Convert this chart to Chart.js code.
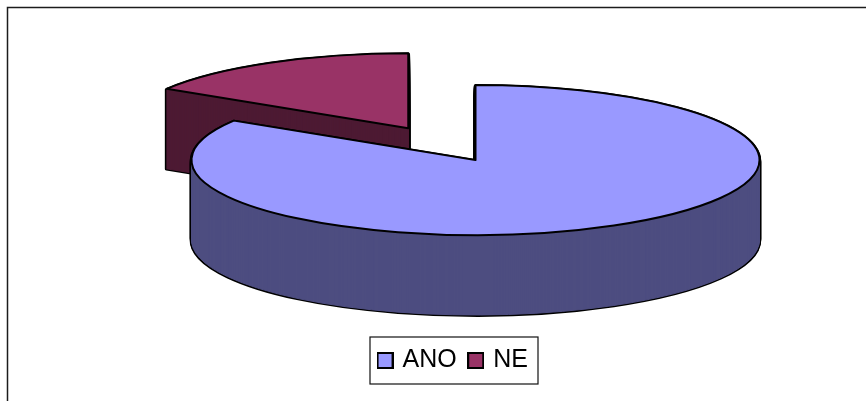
<!DOCTYPE html>
<html>
<head>
<meta charset="utf-8">
<style>html,body{margin:0;padding:0;background:#fff;overflow:hidden}canvas{display:block}</style>
<script src="https://cdn.jsdelivr.net/npm/chart.js@4/dist/chart.umd.min.js"></script>
</head>
<body>
<canvas id="c" width="866" height="401"></canvas>
<script>
const categories = ['ANO', 'NE'];
const values = [83.8, 16.2];
const topColors = ['#9999ff', '#993366'];
const wallColors = ['#4d4d80', '#4d1a33'];
const explode = [0, 138];

const RADIUS = 284, SQUASH = 0.264, DEPTH = 80;
const PIE_X = 475.5, PIE_Y = 160;

function marker(color) {
  const m = document.createElement('canvas');
  m.width = 17; m.height = 17;
  const g = m.getContext('2d');
  g.fillStyle = color; g.fillRect(1, 1, 15, 15);
  g.strokeStyle = '#000'; g.lineWidth = 2; g.strokeRect(1, 1, 15, 15);
  return m;
}

function paintArc(ctx, arc, i, depth, style) {
  const mid = (arc.startAngle + arc.endAngle) / 2;
  const saved = arc.options;
  arc.options = Object.assign({}, {
    borderAlign: 'center', borderJoinStyle: 'round', borderRadius: 0,
    circular: true, offset: 0, spacing: 0, borderDash: [], borderDashOffset: 0
  }, style);
  ctx.save();
  ctx.translate(PIE_X, PIE_Y + depth);
  ctx.scale(1, SQUASH);
  ctx.translate(Math.cos(mid) * explode[i] - arc.x, Math.sin(mid) * explode[i] - arc.y);
  // keep the outline an even width although the pie is squashed
  const stroke = ctx.stroke;
  ctx.stroke = function () {
    const t = ctx.getTransform();
    ctx.setTransform(1, 0, 0, 1, 0, 0);
    stroke.call(ctx);
    ctx.setTransform(t);
  };
  arc.draw(ctx);
  delete ctx.stroke;
  ctx.restore();
  arc.options = saved;
}

const pie3d = {
  id: 'pie3d',
  beforeDraw(chart) {
    const ctx = chart.ctx;
    ctx.save();
    ctx.strokeStyle = '#1c1c1c';
    ctx.lineWidth = 1.5;
    ctx.beginPath();
    ctx.moveTo(7.5, chart.height);
    ctx.lineTo(7.5, 7.5);
    ctx.lineTo(chart.width, 7.5);
    ctx.stroke();
    ctx.restore();
  },
  beforeDatasetDraw(chart, args) {
    const ctx = chart.ctx;
    const arcs = args.meta.data;
    [1, 0].forEach(i => {
      for (let d = DEPTH; d > 0; d--)
        paintArc(ctx, arcs[i], i, d, { backgroundColor: 'rgba(0,0,0,0)', borderColor: '#000', borderWidth: 3.6 });
      for (let d = DEPTH; d > 0; d--)
        paintArc(ctx, arcs[i], i, d, { backgroundColor: wallColors[i], borderColor: wallColors[i], borderWidth: 1 });
    });
    arcs.forEach((arc, i) =>
      paintArc(ctx, arc, i, 0, { backgroundColor: topColors[i], borderColor: '#000', borderWidth: 2 }));
    return false;
  },
  afterDraw(chart) {
    const ctx = chart.ctx;
    ctx.save();
    ctx.strokeStyle = '#111';
    ctx.lineWidth = 1.2;
    ctx.strokeRect(370, 337, 168, 47);
    ctx.restore();
  }
};

new Chart(document.getElementById('c'), {
  type: 'pie',
  data: {
    labels: categories,
    datasets: [{ data: values, backgroundColor: topColors, radius: RADIUS }]
  },
  options: {
    responsive: false,
    animation: false,
    radius: RADIUS,
    layout: { padding: { left: 42, bottom: 18 } },
    plugins: {
      tooltip: { enabled: false },
      legend: {
        position: 'bottom',
        labels: {
          color: '#000',
          font: { family: '"Liberation Sans", Arial, sans-serif', size: 25 },
          usePointStyle: true,
          pointStyleWidth: 10,
          boxHeight: 15,
          padding: 14,
          generateLabels: () => categories.map((text, i) => ({
            text, pointStyle: marker(topColors[i]), fontColor: '#000',
            fillStyle: topColors[i], strokeStyle: '#000', lineWidth: 1, hidden: false, index: i
          }))
        }
      }
    }
  },
  plugins: [pie3d]
});
</script>
</body>
</html>
